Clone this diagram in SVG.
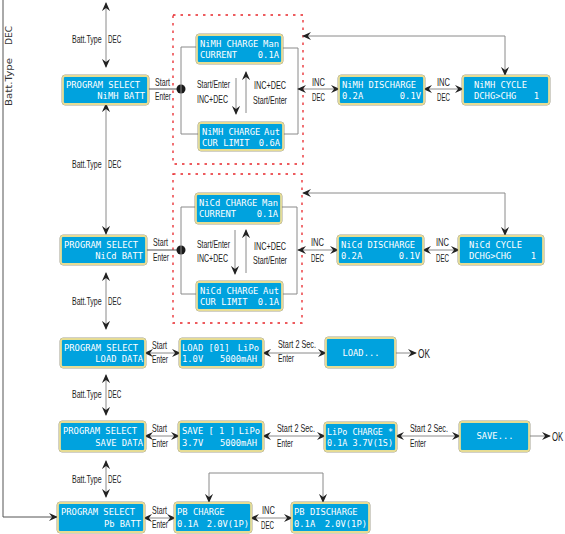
<svg xmlns="http://www.w3.org/2000/svg" width="565" height="534" viewBox="0 0 565 534">
<defs>
<marker id="ah" viewBox="0 0 10 10" refX="9" refY="5" markerWidth="9" markerHeight="9" markerUnits="userSpaceOnUse" orient="auto-start-reverse">
<path d="M0,0.5 L10,5 L0,9.5 L3.5,5 Z" fill="#222"/>
</marker>
<style>
.bo{fill:none;stroke:#7d7862;stroke-width:0.7}
.bx{fill:#00a2de;stroke:#e6dc94;stroke-width:1.8}
.lt{font-family:"DejaVu Sans Mono",monospace;font-size:8.8px;fill:#fff}
.lb{font-family:"Liberation Sans",Arial,sans-serif;font-size:10.5px;fill:#222}
.ok{font-family:"Liberation Sans",Arial,sans-serif;font-size:12.5px;fill:#222}
.rot{font-family:"DejaVu Sans",sans-serif;font-size:8.5px;fill:#333}
.c{fill:none;stroke:#8a8a8a;stroke-width:1}
.cd{fill:none;stroke:#555;stroke-width:1}
.a{marker-end:url(#ah)}
.aa{marker-start:url(#ah);marker-end:url(#ah)}
.dash{fill:none;stroke:#e8262a;stroke-width:1.3;stroke-dasharray:2.5,5}
</style>
</defs>
<rect width="565" height="534" fill="#fff"/>

<!-- dashed groups -->
<rect class="dash" x="173" y="15" width="130" height="149"/>
<rect class="dash" x="173" y="174" width="129" height="149"/>

<g id="connectors">
<path class="cd a" d="M3,0 V517 H57"/>
<path class="c aa" d="M106,3 V67"/>
<path class="c aa" d="M106,104 V234"/>
<path class="c aa" d="M106,273 V329"/>
<path class="c aa" d="M106,375 V415"/>
<path class="c aa" d="M106,461 V497"/>
<!-- row 1 -->
<path class="cd" d="M148,89 H181"/>
<circle cx="181" cy="89" r="4.5" fill="#1a1a1a"/>
<path class="c" d="M197,47 H181 V134 H199"/>
<path class="c" d="M282,48 H298 V134 H283"/>
<path class="c a" d="M236,78 V114"/>
<path class="c a" d="M246,113 V72"/>
<path class="c aa" d="M298,89 H339"/>
<path class="c aa" d="M424,89 H463"/>
<path class="c aa" d="M303,36 H505 V75"/>
<!-- row 2 -->
<path class="cd" d="M146,250 H181"/>
<circle cx="181" cy="250" r="4.5" fill="#1a1a1a"/>
<path class="c" d="M196,207 H181 V294 H197"/>
<path class="c" d="M281,207 H297 V294 H282"/>
<path class="c a" d="M235,230 V274"/>
<path class="c a" d="M246,273 V230"/>
<path class="c aa" d="M298,250 H338"/>
<path class="c aa" d="M423,250 H459"/>
<path class="c aa" d="M303,193 H505 V235"/>
<!-- row 3 -->
<path class="c aa" d="M145,353 H180"/>
<path class="c aa" d="M263,353 H326"/>
<path class="c a" d="M391,353 H416"/>
<!-- row 4 -->
<path class="c aa" d="M145,436 H179"/>
<path class="c aa" d="M263,436 H325"/>
<path class="c aa" d="M396,436 H460"/>
<path class="c a" d="M526,436 H550"/>
<!-- row 5 -->
<path class="c aa" d="M144,518 H175"/>
<path class="c aa" d="M251,518 H292"/>
<path class="c aa" d="M209,502 V473 H323 V502"/>
</g>

<g id="labels">
<text class="rot" transform="translate(12,106) rotate(-90)" textLength="48" lengthAdjust="spacingAndGlyphs">Batt.Type</text>
<text class="rot" transform="translate(12,45) rotate(-90)" textLength="19" lengthAdjust="spacingAndGlyphs">DEC</text>

<text class="lb" transform="translate(72,43) scale(0.67,1)">Batt.Type</text>
<text class="lb" transform="translate(108,43) scale(0.6,1)">DEC</text>
<text class="lb" transform="translate(72,168) scale(0.67,1)">Batt.Type</text>
<text class="lb" transform="translate(108,168) scale(0.6,1)">DEC</text>
<text class="lb" transform="translate(72,305) scale(0.67,1)">Batt.Type</text>
<text class="lb" transform="translate(108,305) scale(0.6,1)">DEC</text>
<text class="lb" transform="translate(72,398) scale(0.67,1)">Batt.Type</text>
<text class="lb" transform="translate(108,398) scale(0.6,1)">DEC</text>
<text class="lb" transform="translate(72,483) scale(0.67,1)">Batt.Type</text>
<text class="lb" transform="translate(108,483) scale(0.6,1)">DEC</text>

<text class="lb" x="155" y="86" textLength="15" lengthAdjust="spacingAndGlyphs">Start</text>
<text class="lb" x="155" y="100" textLength="16" lengthAdjust="spacingAndGlyphs">Enter</text>
<text class="lb" x="153" y="246" textLength="15" lengthAdjust="spacingAndGlyphs">Start</text>
<text class="lb" x="153" y="261" textLength="16" lengthAdjust="spacingAndGlyphs">Enter</text>
<text class="lb" x="152" y="349" textLength="15" lengthAdjust="spacingAndGlyphs">Start</text>
<text class="lb" x="152" y="363" textLength="16" lengthAdjust="spacingAndGlyphs">Enter</text>
<text class="lb" x="152" y="432" textLength="15" lengthAdjust="spacingAndGlyphs">Start</text>
<text class="lb" x="152" y="447" textLength="16" lengthAdjust="spacingAndGlyphs">Enter</text>
<text class="lb" x="152" y="514" textLength="15" lengthAdjust="spacingAndGlyphs">Start</text>
<text class="lb" x="152" y="528" textLength="16" lengthAdjust="spacingAndGlyphs">Enter</text>

<text class="lb" x="197" y="88" textLength="33" lengthAdjust="spacingAndGlyphs">Start/Enter</text>
<text class="lb" x="197" y="103" textLength="31" lengthAdjust="spacingAndGlyphs">INC+DEC</text>
<text class="lb" x="254" y="89" textLength="32" lengthAdjust="spacingAndGlyphs">INC+DEC</text>
<text class="lb" x="253" y="104" textLength="34" lengthAdjust="spacingAndGlyphs">Start/Enter</text>
<text class="lb" x="197" y="248" textLength="33" lengthAdjust="spacingAndGlyphs">Start/Enter</text>
<text class="lb" x="197" y="262" textLength="31" lengthAdjust="spacingAndGlyphs">INC+DEC</text>
<text class="lb" x="254" y="250" textLength="32" lengthAdjust="spacingAndGlyphs">INC+DEC</text>
<text class="lb" x="253" y="264" textLength="34" lengthAdjust="spacingAndGlyphs">Start/Enter</text>

<text class="lb" x="312" y="86" textLength="13" lengthAdjust="spacingAndGlyphs">INC</text>
<text class="lb" x="312" y="101" textLength="13" lengthAdjust="spacingAndGlyphs">DEC</text>
<text class="lb" x="437" y="86" textLength="13" lengthAdjust="spacingAndGlyphs">INC</text>
<text class="lb" x="437" y="101" textLength="13" lengthAdjust="spacingAndGlyphs">DEC</text>
<text class="lb" x="311" y="246" textLength="13" lengthAdjust="spacingAndGlyphs">INC</text>
<text class="lb" x="311" y="262" textLength="13" lengthAdjust="spacingAndGlyphs">DEC</text>
<text class="lb" x="436" y="246" textLength="13" lengthAdjust="spacingAndGlyphs">INC</text>
<text class="lb" x="436" y="262" textLength="13" lengthAdjust="spacingAndGlyphs">DEC</text>
<text class="lb" x="262" y="514" textLength="13" lengthAdjust="spacingAndGlyphs">INC</text>
<text class="lb" x="261" y="529" textLength="13" lengthAdjust="spacingAndGlyphs">DEC</text>

<text class="lb" x="278" y="348" textLength="38" lengthAdjust="spacingAndGlyphs">Start 2 Sec.</text>
<text class="lb" x="278" y="362" textLength="16" lengthAdjust="spacingAndGlyphs">Enter</text>
<text class="lb" x="277" y="432" textLength="38" lengthAdjust="spacingAndGlyphs">Start 2 Sec.</text>
<text class="lb" x="277" y="447" textLength="16" lengthAdjust="spacingAndGlyphs">Enter</text>
<text class="lb" x="410" y="432" textLength="38" lengthAdjust="spacingAndGlyphs">Start 2 Sec.</text>
<text class="lb" x="410" y="447" textLength="16" lengthAdjust="spacingAndGlyphs">Enter</text>
<text class="ok" transform="translate(418,358) scale(0.66,1)">OK</text>
<text class="ok" transform="translate(552,441) scale(0.62,1)">OK</text>
</g>

<g id="p-nimh">
<rect class="bo" x="62" y="75" width="87" height="30" rx="3"/>
<rect class="bx" x="63" y="76" width="85" height="28" rx="2"/>
<text class="lt" x="66" y="88">PROGRAM SELECT</text>
<text class="lt" x="145" y="99" text-anchor="end">NiMH BATT</text>
</g>
<g id="p-nicd">
<rect class="bo" x="60" y="235" width="87" height="30" rx="3"/>
<rect class="bx" x="61" y="236" width="85" height="28" rx="2"/>
<text class="lt" x="64" y="248">PROGRAM SELECT</text>
<text class="lt" x="143" y="259" text-anchor="end">NiCd BATT</text>
</g>
<g id="p-load">
<rect class="bo" x="60" y="338" width="86" height="30" rx="3"/>
<rect class="bx" x="61" y="339" width="84" height="28" rx="2"/>
<text class="lt" x="64" y="351">PROGRAM SELECT</text>
<text class="lt" x="143" y="362" text-anchor="end">LOAD DATA</text>
</g>
<g id="p-save">
<rect class="bo" x="59" y="421" width="87" height="31" rx="3"/>
<rect class="bx" x="60" y="422" width="85" height="29" rx="2"/>
<text class="lt" x="63" y="434">PROGRAM SELECT</text>
<text class="lt" x="143" y="446" text-anchor="end">SAVE DATA</text>
</g>
<g id="p-pb">
<rect class="bo" x="57" y="502" width="88" height="31" rx="3"/>
<rect class="bx" x="58" y="503" width="86" height="29" rx="2"/>
<text class="lt" x="61" y="515">PROGRAM SELECT</text>
<text class="lt" x="141" y="527" text-anchor="end">Pb BATT</text>
</g>

<g id="nimh-man">
<rect class="bo" x="196" y="34" width="87" height="30" rx="3"/>
<rect class="bx" x="197" y="35" width="85" height="28" rx="2"/>
<text class="lt" x="200" y="47">NiMH CHARGE</text>
<text class="lt" x="279" y="47" text-anchor="end">Man</text>
<text class="lt" x="200" y="58">CURRENT</text>
<text class="lt" x="279" y="58" text-anchor="end">0.1A</text>
</g>
<g id="nimh-aut">
<rect class="bo" x="198" y="122" width="86" height="29" rx="3"/>
<rect class="bx" x="199" y="123" width="84" height="27" rx="2"/>
<text class="lt" x="202" y="135">NiMH CHARGE</text>
<text class="lt" x="280" y="135" text-anchor="end">Aut</text>
<text class="lt" x="202" y="146">CUR LIMIT</text>
<text class="lt" x="280" y="146" text-anchor="end">0.6A</text>
</g>
<g id="nimh-dis">
<rect class="bo" x="338" y="75" width="87" height="30" rx="3"/>
<rect class="bx" x="339" y="76" width="85" height="28" rx="2"/>
<text class="lt" x="342" y="88">NiMH DISCHARGE</text>
<text class="lt" x="342" y="99">0.2A</text>
<text class="lt" x="421" y="99" text-anchor="end">0.1V</text>
</g>
<g id="nimh-cyc">
<rect class="bo" x="462" y="75" width="88" height="30" rx="3"/>
<rect class="bx" x="463" y="76" width="86" height="28" rx="2"/>
<text class="lt" x="474" y="88">NiMH CYCLE</text>
<text class="lt" x="474" y="99">DCHG&gt;CHG</text>
<text class="lt" x="539" y="99" text-anchor="end">1</text>
</g>

<g id="nicd-man">
<rect class="bo" x="195" y="193" width="87" height="31" rx="3"/>
<rect class="bx" x="196" y="194" width="85" height="29" rx="2"/>
<text class="lt" x="199" y="206">NiCd CHARGE</text>
<text class="lt" x="278" y="206" text-anchor="end">Man</text>
<text class="lt" x="199" y="217">CURRENT</text>
<text class="lt" x="278" y="217" text-anchor="end">0.1A</text>
</g>
<g id="nicd-aut">
<rect class="bo" x="196" y="281" width="87" height="30" rx="3"/>
<rect class="bx" x="197" y="282" width="85" height="28" rx="2"/>
<text class="lt" x="200" y="294">NiCd CHARGE</text>
<text class="lt" x="279" y="294" text-anchor="end">Aut</text>
<text class="lt" x="200" y="305">CUR LIMIT</text>
<text class="lt" x="279" y="305" text-anchor="end">0.1A</text>
</g>
<g id="nicd-dis">
<rect class="bo" x="337" y="235" width="87" height="30" rx="3"/>
<rect class="bx" x="338" y="236" width="85" height="28" rx="2"/>
<text class="lt" x="341" y="248">NiCd DISCHARGE</text>
<text class="lt" x="341" y="259">0.2A</text>
<text class="lt" x="420" y="259" text-anchor="end">0.1V</text>
</g>
<g id="nicd-cyc">
<rect class="bo" x="458" y="235" width="86" height="30" rx="3"/>
<rect class="bx" x="459" y="236" width="84" height="28" rx="2"/>
<text class="lt" x="469" y="248">NiCd CYCLE</text>
<text class="lt" x="469" y="259">DCHG&gt;CHG</text>
<text class="lt" x="536" y="259" text-anchor="end">1</text>
</g>

<g id="load01">
<rect class="bo" x="179" y="338" width="85" height="30" rx="3"/>
<rect class="bx" x="180" y="339" width="83" height="28" rx="2"/>
<text class="lt" x="182" y="351">LOAD [01]</text>
<text class="lt" x="259" y="351" text-anchor="end">LiPo</text>
<text class="lt" x="182" y="362">1.0V</text>
<text class="lt" x="257" y="362" text-anchor="end">5000mAH</text>
</g>
<g id="loading">
<rect class="bo" x="325" y="337" width="71" height="31" rx="3"/>
<rect class="bx" x="326" y="338" width="69" height="29" rx="2"/>
<text class="lt" x="361" y="356" text-anchor="middle">LOAD...</text>
</g>
<g id="save1">
<rect class="bo" x="178" y="421" width="86" height="31" rx="3"/>
<rect class="bx" x="179" y="422" width="84" height="29" rx="2"/>
<text class="lt" x="182" y="434">SAVE [ 1 ]</text>
<text class="lt" x="260" y="434" text-anchor="end">LiPo</text>
<text class="lt" x="182" y="446">3.7V</text>
<text class="lt" x="257" y="446" text-anchor="end">5000mAH</text>
</g>
<g id="lipo-chg">
<rect class="bo" x="324" y="422" width="73" height="30" rx="3"/>
<rect class="bx" x="325" y="423" width="71" height="28" rx="2"/>
<text class="lt" x="327" y="435" textLength="66" lengthAdjust="spacingAndGlyphs">LiPo CHARGE *</text>
<text class="lt" x="327" y="446" textLength="66" lengthAdjust="spacingAndGlyphs">0.1A 3.7V(1S)</text>
</g>
<g id="saving">
<rect class="bo" x="459" y="421" width="71" height="31" rx="3"/>
<rect class="bx" x="460" y="422" width="69" height="29" rx="2"/>
<text class="lt" x="495" y="439" text-anchor="middle">SAVE...</text>
</g>
<g id="pb-chg">
<rect class="bo" x="174" y="502" width="78" height="31" rx="3"/>
<rect class="bx" x="175" y="503" width="76" height="29" rx="2"/>
<text class="lt" x="177" y="515">PB CHARGE</text>
<text class="lt" x="177" y="527">0.1A</text>
<text class="lt" x="249" y="527" text-anchor="end">2.0V(1P)</text>
</g>
<g id="pb-dis">
<rect class="bo" x="291" y="502" width="79" height="31" rx="3"/>
<rect class="bx" x="292" y="503" width="77" height="29" rx="2"/>
<text class="lt" x="294" y="515">PB DISCHARGE</text>
<text class="lt" x="294" y="527">0.1A</text>
<text class="lt" x="367" y="527" text-anchor="end">2.0V(1P)</text>
</g>
</svg>
